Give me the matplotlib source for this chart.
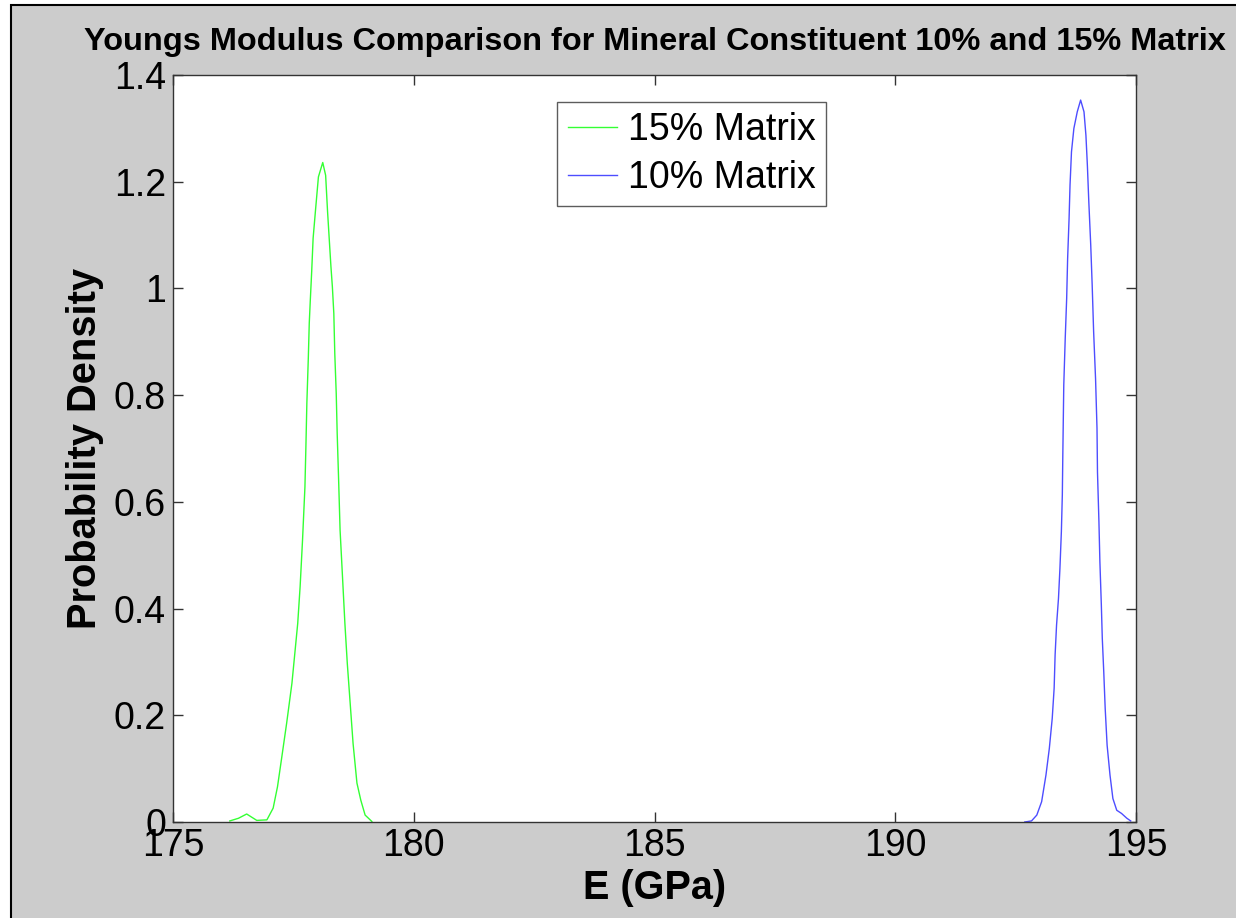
import matplotlib
matplotlib.use("Agg")
import matplotlib.pyplot as plt
from matplotlib.patches import Rectangle
from matplotlib.ticker import FuncFormatter

plt.rcParams['font.family'] = ['Liberation Sans', 'DejaVu Sans']

# ---- data ----
e15 = [176.18, 176.36, 176.53, 176.74, 176.95, 177.08, 177.17, 177.26, 177.36, 177.47,
       177.53, 177.59, 177.64, 177.69, 177.74, 177.76, 177.78, 177.81, 177.83, 177.85,
       177.88, 177.91, 177.96, 178.02, 178.11, 178.17, 178.21, 178.25, 178.28, 178.31,
       178.34, 178.36, 178.39, 178.41, 178.44, 178.47, 178.52, 178.57, 178.62, 178.68,
       178.74, 178.82, 178.90, 178.99, 179.13]
p15 = [0.002, 0.007, 0.015, 0.003, 0.004, 0.026, 0.066, 0.122, 0.185, 0.260,
       0.316, 0.372, 0.441, 0.528, 0.628, 0.703, 0.785, 0.869, 0.935, 0.975,
       1.031, 1.094, 1.147, 1.209, 1.236, 1.212, 1.144, 1.085, 1.041, 1.003,
       0.953, 0.878, 0.803, 0.728, 0.640, 0.547, 0.460, 0.372, 0.297, 0.222,
       0.147, 0.073, 0.041, 0.013, 0.001]

e10 = [192.69, 192.83, 192.94, 193.04, 193.13, 193.20, 193.26, 193.30, 193.32, 193.35,
       193.39, 193.42, 193.45, 193.47, 193.48, 193.50, 193.53, 193.56, 193.58, 193.61,
       193.63, 193.66, 193.71, 193.78, 193.85, 193.92, 193.96, 193.99, 194.02, 194.06,
       194.09, 194.12, 194.16, 194.19, 194.20, 194.23, 194.25, 194.28, 194.30, 194.33,
       194.36, 194.40, 194.46, 194.52, 194.60, 194.70, 194.81, 194.89]
p10 = [0.000, 0.002, 0.013, 0.038, 0.088, 0.138, 0.194, 0.251, 0.313, 0.369,
       0.419, 0.475, 0.544, 0.613, 0.688, 0.819, 0.906, 0.981, 1.056, 1.131,
       1.194, 1.256, 1.300, 1.331, 1.353, 1.331, 1.287, 1.231, 1.162, 1.081,
       1.006, 0.919, 0.831, 0.738, 0.656, 0.563, 0.488, 0.407, 0.344, 0.282,
       0.213, 0.144, 0.088, 0.044, 0.022, 0.016, 0.007, 0.002]

xticks = [175, 180, 185, 190, 195]
yticks = [0, 0.2, 0.4, 0.6, 0.8, 1.0, 1.2, 1.4]
labels = ['15% Matrix', '10% Matrix']
title = 'Youngs Modulus Comparison for Mineral Constituent 10% and 15% Matrix'

W, H = 1236, 918
fig = plt.figure(figsize=(W / 100, H / 100), dpi=100, facecolor='white')
# grey figure panel with black frame on top/left
fig.patches.append(Rectangle((11 / W, -0.1), 1.2, 1 - 5 / H + 0.1, transform=fig.transFigure,
                             facecolor='#cccccc', edgecolor='black', linewidth=1.5, zorder=-1))

ax = fig.add_axes([173 / W, 1 - 822 / H, (1136 - 173) / W, (822 - 75) / H])
ax.set_facecolor('white')

ax.plot(e15, p15, color='#33ff33', lw=1.0, label=labels[0])
ax.plot(e10, p10, color='#4d4dff', lw=1.0, label=labels[1])

ax.set_xlim(175, 195)
ax.set_ylim(0, 1.4)
ax.set_xticks(xticks)
ax.set_yticks(yticks)
ax.yaxis.set_major_formatter(FuncFormatter(lambda v, p: '%g' % round(v, 2)))

for s in ax.spines.values():
    s.set_color('#333333')
    s.set_linewidth(1.0)
ax.tick_params(direction='in', length=7, width=1, color='#333333', labelsize=27,
               top=True, right=True)
ax.tick_params(axis='x', pad=4)
ax.tick_params(axis='y', pad=5)

ax.set_title(title, fontsize=23.4, fontweight='bold', pad=18)
ax.set_xlabel('E (GPa)', fontsize=28.5, fontweight='bold')
ax.set_ylabel('Probability Density', fontsize=28.7, fontweight='bold')
ax.xaxis.set_label_coords(0.5, -0.063)
ax.yaxis.set_label_coords(-0.072, 0.5)

leg = ax.legend(loc='upper left', bbox_to_anchor=((557 - 173) / 963, (822 - 102) / 747),
                borderaxespad=0, fontsize=27, frameon=True, fancybox=False,
                handlelength=1.33, handletextpad=0.27, labelspacing=0.3, borderpad=0.28)
leg.get_frame().set_edgecolor('#333333')
leg.get_frame().set_linewidth(1.0)

fig.savefig('out.png', dpi=100, facecolor=fig.get_facecolor())
